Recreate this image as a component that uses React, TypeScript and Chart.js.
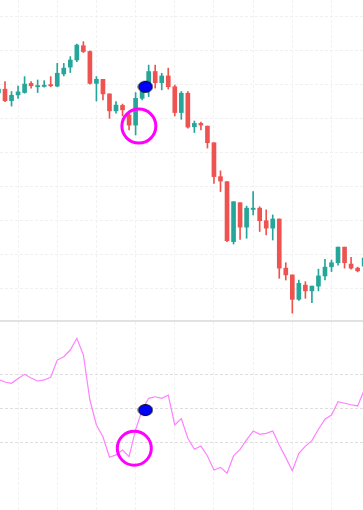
import React, { useEffect, useRef } from "react";
import { Chart, registerables } from "chart.js";

Chart.register(...registerables);

// ---- Data (candle index 0..56) ----
const opens = [77.6, 78.7, 75.3, 77.0, 77.7, 80.4, 79.4, 79.5, 79.8, 79.6, 83.2, 85.2, 87.3, 91.5, 89.8, 80.4, 81.6, 77.3, 72.3, 73.9, 71.1, 68.1, 76.0, 79.0, 83.9, 80.6, 82.6, 79.4, 71.8, 77.5, 67.6, 68.6, 67.8, 62.9, 52.9, 51.4, 33.7, 45.2, 38.0, 43.2, 43.6, 39.9, 37.7, 40.4, 25.9, 23.9, 16.7, 20.9, 19.2, 20.6, 23.6, 26.3, 27.5, 32.1, 27.1, 25.9, 26.5];
const highs = [79.6, 80.9, 78.0, 79.6, 82.4, 80.9, 81.4, 81.2, 82.4, 86.3, 86.3, 88.3, 92.0, 92.7, 90.0, 82.4, 81.6, 77.3, 75.0, 74.3, 72.1, 77.7, 79.0, 85.8, 85.8, 83.4, 84.9, 79.9, 78.0, 78.0, 69.3, 69.0, 67.8, 62.9, 54.6, 51.4, 45.5, 45.2, 44.2, 48.5, 44.0, 43.1, 41.6, 40.4, 27.5, 23.9, 22.4, 21.9, 20.6, 25.6, 28.5, 28.3, 32.1, 32.1, 29.1, 26.2, 29.8];
const lows = [76.7, 75.0, 73.7, 76.0, 77.5, 79.0, 77.7, 79.3, 79.4, 79.4, 82.6, 83.6, 86.8, 89.5, 80.2, 75.2, 75.5, 70.1, 71.6, 70.8, 66.7, 65.2, 75.5, 76.5, 79.0, 78.5, 78.7, 70.8, 69.8, 67.2, 65.9, 66.7, 61.3, 50.9, 48.5, 33.7, 33.0, 34.4, 34.7, 41.6, 36.7, 35.7, 34.2, 22.9, 22.4, 12.6, 16.4, 17.0, 15.7, 19.2, 22.4, 24.9, 26.8, 25.9, 25.6, 24.8, 26.2];
const closes = [78.7, 75.3, 76.9, 77.9, 80.2, 79.7, 79.6, 79.7, 79.7, 83.4, 84.9, 87.3, 91.7, 89.8, 80.4, 81.6, 77.3, 72.3, 74.0, 72.6, 68.1, 76.0, 78.2, 83.9, 80.6, 82.6, 79.4, 71.8, 77.5, 67.5, 68.6, 68.1, 62.9, 52.9, 51.6, 34.0, 45.5, 38.0, 43.6, 43.6, 39.9, 37.7, 40.4, 25.9, 23.9, 16.7, 21.4, 19.2, 20.6, 23.6, 26.2, 27.5, 32.1, 27.5, 25.9, 25.1, 28.9];
const rsi = [66.8, 65.3, 64.5, 67.4, 69.8, 67.6, 65.9, 66.5, 68.1, 78.2, 80.2, 84.1, 91.0, 81.2, 54.7, 40.0, 33.1, 21.0, 22.4, 25.3, 21.4, 37.1, 48.8, 55.7, 56.6, 55.7, 57.6, 40.0, 43.8, 32.2, 25.7, 27.6, 21.8, 13.5, 15.1, 11.6, 21.8, 25.7, 31.2, 36.5, 34.5, 35.1, 36.5, 28.2, 20.8, 13.1, 23.4, 27.6, 30.8, 37.5, 43.4, 45.9, 53.7, 52.8, 51.9, 51.2, 60.6];

const xGridTicks = [3, 9, 15, 21, 27, 33, 39, 45, 51];
const priceGridTicks = [20, 30, 40, 50, 60, 70, 80, 90, 100];
const rsiGridTicks = [30, 50, 70];

// annotation markers (candle index, value)
const priceRing = [{ x: 21.5, y: 67.8 }];
const priceDot = [{ x: 22.5, y: 79.4 }];
const rsiRing = [{ x: 20.8, y: 26.3 }];
const rsiDot = [{ x: 22.5, y: 48.8 }];

const UP = "#26a69a";
const DOWN = "#ef5350";
const X_MIN = 0.234;
const X_MAX = 55.824;

function blueDot() {
  const c = document.createElement("canvas");
  c.width = 16;
  c.height = 14;
  const ctx = c.getContext("2d")!;
  ctx.beginPath();
  ctx.ellipse(8, 7, 7, 5.5, 0, 0, Math.PI * 2);
  ctx.fillStyle = "#0000ff";
  ctx.fill();
  ctx.lineWidth = 1;
  ctx.strokeStyle = "#000000";
  ctx.stroke();
  return c;
}

function xScale(color: string): any {
  return {
    type: "linear",
    min: X_MIN,
    max: X_MAX,
    offset: false,
    ticks: { display: false },
    grid: { color, drawTicks: false, offset: false, lineWidth: 1 },
    border: { display: false, dash: [3, 2] },
    afterBuildTicks: (s: any) => {
      s.ticks = xGridTicks.map((v) => ({ value: v }));
    },
  };
}

const baseOptions: any = {
  animation: false,
  responsive: false,
  maintainAspectRatio: false,
  events: [],
  layout: { padding: 0, autoPadding: false },
  plugins: { legend: { display: false }, tooltip: { enabled: false } },
};

export default function App() {
  const topRef = useRef<HTMLCanvasElement>(null);
  const botRef = useRef<HTMLCanvasElement>(null);

  useEffect(() => {
    const idx = opens.map((_, i) => i);
    const colors = idx.map((i) => (closes[i] >= opens[i] ? UP : DOWN));
    const dot = blueDot();

    const top = new Chart(topRef.current!, {
      type: "bar",
      data: {
        datasets: [
          {
            type: "scatter",
            data: priceRing,
            pointStyle: "circle",
            pointRadius: 17,
            borderWidth: 3,
            borderColor: "#ff00ff",
            backgroundColor: "rgba(0,0,0,0)",
            order: 0,
          } as any,
          {
            type: "scatter",
            data: priceDot,
            pointStyle: dot,
            pointRadius: 7,
            order: 0,
          } as any,
          {
            type: "bar",
            data: idx.map((i) => ({ x: i, y: [opens[i], closes[i]] })),
            backgroundColor: colors,
            barThickness: 4,
            minBarLength: 1.2,
            grouped: false,
            borderWidth: 0,
            order: 1,
          } as any,
          {
            type: "bar",
            data: idx.map((i) => ({ x: i, y: [lows[i], highs[i]] })),
            backgroundColor: colors,
            barThickness: 1,
            grouped: false,
            borderWidth: 0,
            order: 2,
          } as any,
        ],
      },
      options: {
        ...baseOptions,
        scales: {
          x: xScale("#f2f2f2"),
          y: {
            type: "linear",
            min: 10.6,
            max: 105,
            ticks: { display: false },
            grid: { color: "#f0f0f0", drawTicks: false, lineWidth: 1 },
            border: { display: false, dash: [3, 2] },
            afterBuildTicks: (s: any) => {
              s.ticks = priceGridTicks.map((v) => ({ value: v }));
            },
          },
        },
      } as any,
    });

    const bot = new Chart(botRef.current!, {
      type: "line",
      data: {
        datasets: [
          {
            type: "scatter",
            data: rsiRing,
            pointStyle: "circle",
            pointRadius: 17,
            borderWidth: 3,
            borderColor: "#ff00ff",
            backgroundColor: "rgba(0,0,0,0)",
            order: 0,
          } as any,
          {
            type: "scatter",
            data: rsiDot,
            pointStyle: dot,
            pointRadius: 7,
            order: 0,
          } as any,
          {
            type: "line",
            data: idx.map((i) => ({ x: i, y: rsi[i] })),
            borderColor: "#ff80ff",
            borderWidth: 1.2,
            pointRadius: 0,
            tension: 0,
            fill: false,
            order: 1,
          } as any,
        ],
      },
      options: {
        ...baseOptions,
        scales: {
          x: xScale("#f2f2f2"),
          y: {
            type: "linear",
            min: -10,
            max: 100.59,
            ticks: { display: false },
            grid: { color: "#dedede", drawTicks: false, lineWidth: 1 },
            border: { display: false, dash: [3, 2] },
            afterBuildTicks: (s: any) => {
              s.ticks = rsiGridTicks.map((v) => ({ value: v }));
            },
          },
        },
      } as any,
    });

    return () => {
      top.destroy();
      bot.destroy();
    };
  }, []);

  return (
    <div style={{ position: "absolute", left: 0, top: 0, width: 363, height: 510, background: "#ffffff" }}>
      <canvas ref={topRef} width={363} height={320} style={{ display: "block", width: 363, height: 320 }} />
      <div style={{ width: 363, height: 2, background: "#e2e2e2" }} />
      <canvas ref={botRef} width={363} height={188} style={{ display: "block", width: 363, height: 188 }} />
    </div>
  );
}
